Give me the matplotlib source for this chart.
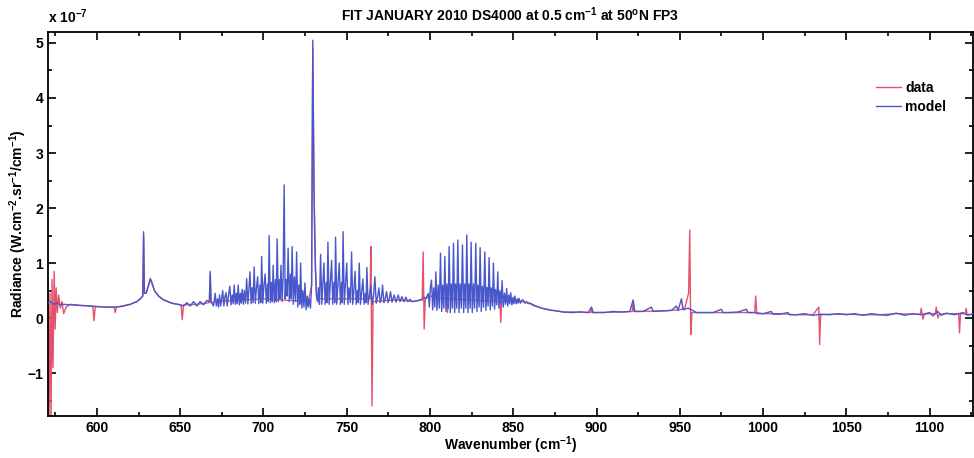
import matplotlib
matplotlib.use("Agg")
import matplotlib.pyplot as plt
from matplotlib.ticker import MultipleLocator

plt.rcParams['font.family'] = ['Liberation Sans', 'DejaVu Sans']
plt.rcParams['mathtext.fontset'] = 'custom'
plt.rcParams['mathtext.rm'] = 'Liberation Sans:bold'
plt.rcParams['mathtext.it'] = 'Liberation Sans:bold'
plt.rcParams['mathtext.bf'] = 'Liberation Sans:bold'

# ---- model spectrum (radiance in 1e-7 W.cm-2.sr-1/cm-1) ----
model_wavenumber = [
    570.6, 572, 574, 576, 578, 580, 585, 590, 595, 600, 605, 610, 615, 620, 624, 626, 627.5, 628, 628.5, 629.5,
    631, 632, 633, 634.5, 637, 640, 645, 650, 652, 654, 656, 658, 660, 662, 664, 666, 667.5, 668, 668.5,
    670.0, 671.0, 671.7, 672.4, 673.0, 673.6, 674.3, 674.9, 675.5, 676.2, 676.8, 677.5, 678.2, 678.9, 679.8,
    680.5, 681.2, 681.8, 682.4, 683.1, 683.7, 684.2, 684.8, 685.5, 686.1, 686.6, 687.2, 687.9, 688.5, 689.2,
    689.9, 690.6, 691.2, 691.9, 692.6, 693.2, 693.8, 694.4, 695.1, 695.8, 696.5, 697.2, 697.9, 698.4, 698.9,
    699.6, 700.3, 701.0, 701.7, 702.4, 702.9, 703.4, 704.1, 704.8, 705.3, 705.8, 706.5, 707.2, 707.7, 708.2,
    708.9, 709.6, 710.0, 710.5, 711.2, 711.8, 712.4, 713.0, 713.6, 714.2, 714.8, 715.5, 716.2, 716.7, 717.2,
    717.9, 718.6, 719.3, 719.9, 720.6, 721.3, 721.8, 722.3, 723.0, 723.6, 724.3, 724.9, 725.6, 726.3, 726.8,
    727.4, 728.2, 728.9, 729.6, 730.3, 730.7, 731.2, 731.8, 732.4, 733.0, 733.6, 734.3, 735.0, 735.6, 736.3,
    737.0, 737.7, 738.2, 738.7, 739.4, 740.1, 740.9, 741.6, 742.3, 742.8, 743.3, 744.0, 744.7, 745.5, 746.2,
    746.9, 747.3, 747.8, 748.5, 749.2, 750.0, 750.7, 751.4, 752.2, 752.9, 753.6, 754.3, 755.0, 755.7, 756.4,
    756.9, 757.5, 758.2, 758.9, 759.7, 760.4, 761.1, 761.6, 762.1, 762.8, 763.5, 764.5, 765.3, 766.1, 766.9,
    767.7, 768.5, 769.3, 770.1, 770.8, 771.5, 772.3, 773.1, 773.9, 774.8, 775.5, 776.3, 777.2, 778.5, 779.6,
    780.9, 782.0, 783.1, 784.3, 785.5, 786.7, 788.0, 789.5, 791.0, 793.0, 795.0, 796.5, 797.5, 799.0,
    799.6, 800.2, 800.9, 801.6, 802.2, 802.9, 803.5, 804.2, 804.9, 805.6, 806.3, 807.0, 807.6, 808.3, 808.9,
    809.6, 810.2, 810.9, 811.5, 812.2, 812.8, 813.5, 814.1, 814.8, 815.4, 816.1, 816.7, 817.4, 818.1, 818.8,
    819.5, 820.2, 820.8, 821.5, 822.1, 822.8, 823.4, 824.1, 824.7, 825.4, 826.1, 826.8, 827.5, 828.2, 828.8,
    829.5, 830.1, 830.8, 831.5, 832.2, 832.9, 833.6, 834.2, 834.9, 835.5, 836.2, 836.8, 837.5, 838.1, 838.8,
    839.4, 840.1, 840.7, 841.4, 842.0, 842.7, 843.3, 844.0, 844.7, 845.4, 846.0, 846.7, 847.3, 847.9, 848.5,
    849.2, 849.9, 850.4, 851.0, 851.7, 852.4, 852.9, 853.5, 854.3, 855.0, 856.0, 857.0, 858.0, 859.0, 860.0,
    862, 864, 866, 868, 870, 873, 876, 880, 885, 890, 895, 897, 898, 905, 910, 915, 920, 922, 923, 928, 933,
    934, 940, 945, 948, 949, 951, 952, 955, 957, 960, 965, 970, 975, 976, 980, 985, 990, 991, 995, 1000,
    1005, 1006, 1010, 1015, 1016, 1020, 1025, 1030, 1035, 1040, 1045, 1050, 1055, 1060, 1065, 1070, 1075,
    1080, 1085, 1090, 1095, 1100, 1102, 1105, 1107, 1110, 1115, 1120, 1123, 1126,
]
model_radiance = [
    0.28, 0.30, 0.25, 0.27, 0.24, 0.25, 0.24, 0.23, 0.22, 0.21, 0.20, 0.20, 0.21, 0.25, 0.30, 0.35, 0.40, 1.57, 0.45, 0.45,
    0.60, 0.72, 0.65, 0.50, 0.40, 0.33, 0.27, 0.24, 0.22, 0.28, 0.22, 0.30, 0.22, 0.30, 0.24, 0.32, 0.30, 0.85, 0.30,
    0.22, 0.45, 0.22, 0.35, 0.20, 0.42, 0.22, 0.36, 0.50, 0.22, 0.38, 0.46, 0.22, 0.40, 0.58,
    0.24, 0.42, 0.26, 0.60, 0.25, 0.45, 0.26, 0.60, 0.24, 0.45, 0.27, 0.52, 0.25, 0.50, 0.27,
    0.72, 0.26, 0.50, 0.84, 0.26, 0.55, 0.28, 0.93, 0.27, 0.55, 0.75, 0.26, 0.60, 0.28, 1.12,
    0.27, 0.60, 0.80, 0.27, 0.62, 0.30, 1.50, 0.28, 0.65, 0.30, 0.96, 0.28, 0.70, 0.30, 1.44,
    0.30, 0.70, 0.35, 0.96, 0.30, 0.75, 2.42, 0.35, 0.70, 0.40, 1.27, 0.30, 0.80, 0.35, 1.30,
    0.25, 0.75, 0.30, 1.20, 0.20, 0.60, 0.25, 1.00, 0.18, 0.50, 0.20, 0.64, 0.15, 0.40, 0.20,
    0.35, 0.18, 0.60, 5.05, 2.50, 1.60, 0.90, 0.40, 0.30, 0.55, 0.25, 1.16, 0.25, 0.60, 1.00,
    0.25, 0.65, 0.28, 1.38, 0.25, 0.60, 1.05, 0.25, 0.65, 0.28, 1.47, 0.25, 0.60, 1.00, 0.25,
    0.65, 0.28, 1.57, 0.25, 0.60, 1.00, 0.25, 0.55, 0.28, 1.20, 0.25, 0.50, 0.85, 0.25, 0.50,
    0.28, 1.00, 0.25, 0.45, 0.71, 0.25, 0.45, 0.28, 0.92, 0.25, 0.40, 0.60, 0.25, 0.40, 0.75,
    0.27, 0.38, 0.55, 0.28, 0.36, 0.60, 0.28, 0.35, 0.48, 0.28, 0.34, 0.48, 0.29, 0.42, 0.29,
    0.42, 0.30, 0.39, 0.30, 0.38, 0.30, 0.34, 0.30, 0.31, 0.32, 0.34, 0.38, 0.35, 0.45,
    0.20, 0.55, 0.69, 0.15, 0.55, 0.20, 0.84, 0.14, 0.60, 0.18, 1.18, 0.12, 0.60, 0.18, 1.12,
    0.12, 0.62, 0.18, 1.30, 0.10, 0.62, 0.18, 1.36, 0.10, 0.62, 0.18, 1.42, 0.10, 0.62, 0.18,
    1.33, 0.10, 0.62, 0.18, 1.51, 0.10, 0.62, 0.18, 1.38, 0.10, 0.62, 0.18, 1.36, 0.12, 0.60,
    0.20, 1.28, 0.12, 0.58, 0.20, 1.20, 0.14, 0.56, 0.22, 1.10, 0.15, 0.55, 0.22, 1.00, 0.16,
    0.52, 0.24, 0.84, 0.18, 0.50, 0.25, 0.68, 0.20, 0.45, 0.25, 0.54, 0.22, 0.42, 0.26, 0.46,
    0.24, 0.38, 0.26, 0.40, 0.26, 0.35, 0.27, 0.36, 0.27, 0.32, 0.33, 0.27, 0.30, 0.26, 0.27,
    0.23, 0.21, 0.19, 0.17, 0.16, 0.14, 0.13, 0.11, 0.10, 0.11, 0.10, 0.20, 0.10, 0.10, 0.12, 0.11, 0.12, 0.33, 0.12, 0.12, 0.20,
    0.12, 0.13, 0.14, 0.22, 0.14, 0.35, 0.15, 0.18, 0.15, 0.10, 0.10, 0.10, 0.16, 0.10, 0.10, 0.11, 0.16, 0.10, 0.10, 0.08,
    0.12, 0.07, 0.07, 0.10, 0.06, 0.06, 0.08, 0.05, 0.07, 0.06, 0.08, 0.06, 0.08, 0.05, 0.08, 0.06, 0.05,
    0.09, 0.05, 0.08, 0.06, 0.10, 0.04, 0.12, 0.05, 0.09, 0.06, 0.10, 0.05, 0.08,
]

# ---- measured data ----
data_wavenumber = [
    570.6, 571.2, 571.8, 572.4, 573.0, 573.6, 574.3, 574.9, 575.5, 576.2, 577.0, 578.0, 579.0, 580.0, 581.5,
    584, 590, 597.5, 598.2, 599.0, 605, 610.3, 611.0, 611.7, 620, 624, 626, 627.5, 628, 628.5, 629.5, 631, 632,
    633, 634.5, 637, 640, 645, 650.5, 651.2, 652, 660, 667.5, 668, 668.5, 672, 700, 727, 728.9, 729.6, 730.3,
    731.2, 732, 764.0, 764.5, 765.2, 765.8, 780, 790, 795.3, 795.9, 796.5, 797.2, 800, 810, 810.5, 811,
    842.0, 842.5, 843.0, 855, 860, 866, 870, 876, 880, 890, 896.5, 897, 897.5, 915, 921.5, 922, 922.5, 940,
    950, 953, 955.3, 956.0, 956.6, 957.3, 960, 975, 995.0, 995.6, 996.2, 1000, 1010, 1020, 1030, 1033.5,
    1034.0, 1034.6, 1040, 1050, 1060, 1070, 1080, 1090, 1094.5, 1095, 1096, 1097, 1100, 1103.5, 1104, 1105,
    1106, 1110, 1117.5, 1118.0, 1118.6, 1121.5, 1122, 1122.5, 1126,
]
data_radiance = [
    0.50, -1.85, 0.45, -1.85, 0.70, -0.90, 0.85, -0.20, 0.55, 0.10, 0.42, 0.18, 0.30, 0.08, 0.20,
    0.25, 0.23, 0.22, -0.05, 0.21, 0.20, 0.20, 0.10, 0.20, 0.25, 0.30, 0.35, 0.40, 1.50, 0.45, 0.45, 0.60, 0.70,
    0.63, 0.50, 0.40, 0.33, 0.27, 0.24, -0.03, 0.24, 0.25, 0.28, 0.80, 0.28, 0.30, 0.35, 0.30, 0.60, 4.90, 2.40,
    0.90, 0.35, 0.35, 1.30, -1.60, 0.30, 0.33, 0.30, 0.33, 1.20, -0.20, 0.35, 0.40, 0.35, 0.10, 0.35,
    0.30, -0.08, 0.30, 0.30, 0.27, 0.19, 0.16, 0.13, 0.11, 0.11, 0.10, 0.18, 0.10, 0.11, 0.12, 0.30, 0.12, 0.13,
    0.15, 0.18, 0.45, 1.60, -0.30, 0.10, 0.10, 0.10, 0.10, 0.40, 0.08, 0.08, 0.08, 0.06, 0.06, 0.20,
    -0.48, 0.06, 0.07, 0.07, 0.06, 0.06, 0.08, 0.07, 0.07, 0.18, -0.02, 0.07, 0.08, 0.08, 0.20, 0.00,
    0.07, 0.08, 0.08, -0.27, 0.08, 0.08, 0.18, 0.07, 0.06,
]

x_major_ticks = [600, 650, 700, 750, 800, 850, 900, 950, 1000, 1050, 1100]
y_major_ticks = [-1, 0, 1, 2, 3, 4, 5]

fig = plt.figure(figsize=(9.74, 4.58), dpi=100)
ax = fig.add_axes([0.0493, 0.0917, 0.9495, 0.8385])

ax.plot(data_wavenumber, data_radiance, color='#e5506c', lw=1.0, label='data', zorder=2)
ax.plot(model_wavenumber, model_radiance, color='#4858cc', lw=1.0, label='model', zorder=3)

ax.set_xlim(570.6, 1126)
ax.set_ylim(-1.78, 5.2)
ax.set_xticks(x_major_ticks)
ax.set_yticks(y_major_ticks)
ax.xaxis.set_minor_locator(MultipleLocator(25))
ax.yaxis.set_minor_locator(MultipleLocator(0.5))
ax.tick_params(which='both', direction='in', top=True, right=True, width=1.2)
ax.tick_params(which='major', length=6, labelsize=10)
ax.tick_params(which='minor', length=3)
for lbl in ax.get_xticklabels() + ax.get_yticklabels():
    lbl.set_fontweight('bold')
for sp in ax.spines.values():
    sp.set_linewidth(1.3)

ax.set_title(r'FIT JANUARY 2010 DS4000 at 0.5 cm$^{-1}$ at 50$^{o}$N FP3',
             fontsize=10, fontweight='bold', pad=8)
ax.set_xlabel(r'Wavenumber (cm$^{-1}$)', fontsize=10, fontweight='bold', labelpad=0)
ax.set_ylabel(r'Radiance (W.cm$^{-2}$.sr$^{-1}$/cm$^{-1}$)', fontsize=10, fontweight='bold', labelpad=-1)
ax.text(0.0, 1.015, r'x 10$^{-7}$', transform=ax.transAxes, fontsize=10,
        fontweight='bold', ha='left', va='bottom')

leg = ax.legend(loc='upper right', bbox_to_anchor=(0.985, 0.905), frameon=False,
                handlelength=1.8, handletextpad=0.3, labelspacing=0.35,
                prop={'weight': 'bold', 'size': 10})

fig.savefig('out.png', dpi=100)
